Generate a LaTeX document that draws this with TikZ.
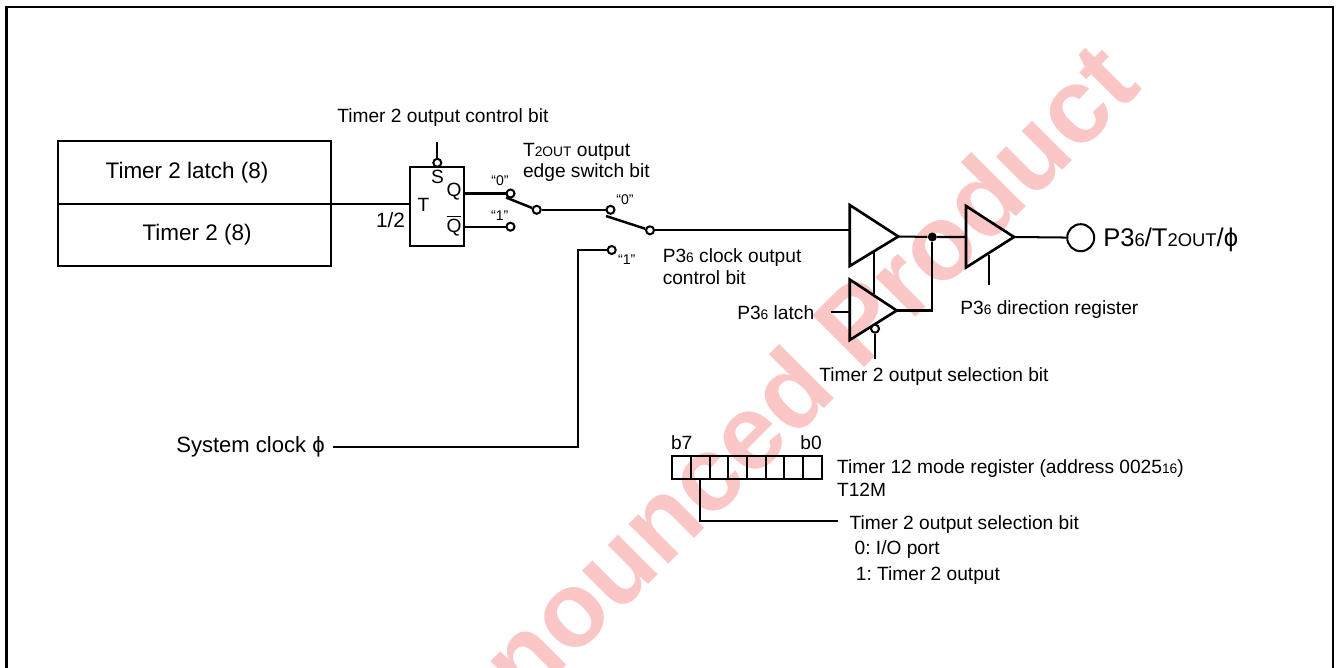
\documentclass[tikz,border=0pt]{standalone}
\usepackage{fontspec}
\setmainfont{Liberation Sans}
\usetikzlibrary{positioning}
\definecolor{markpink}{RGB}{250,198,198}
\newcommand{\lowtxt}[1]{\scalebox{0.72}{#1}}
\newcommand{\phisym}{\char"03D5\relax}
\frenchspacing

\begin{document}
\begin{tikzpicture}[
        x=0.02cm, y=-0.02cm,
        % Stili per i blocchi
        regbox/.style={rectangle, draw=black, line width=1.3pt, minimum width=5.46cm, minimum height=1.25cm, font=\fontsize{12.8}{15}\selectfont},
        buffer/.style={draw=black, line width=1.5pt, line join=miter},
        % Stili per le etichette e frecce
        wire/.style={draw=black, line width=1.15pt},
        contact/.style={circle, draw=black, line width=1.15pt, fill=white, minimum size=0.16cm, inner sep=0pt},
        lbl/.style={font=\fontsize{10.9}{13}\selectfont, inner sep=0pt},
        biglbl/.style={font=\fontsize{11.8}{14}\selectfont, inner sep=0pt},
        tinylbl/.style={font=\fontsize{8}{9}\selectfont, inner sep=0pt}
    ]
    \useasboundingbox (0,0) rectangle (1337,668);

    % --- WATERMARK ---
    \begin{scope}
    \clip (0,0) rectangle (1337,668);
    \node[font=\fontsize{60.5}{70}\selectfont\bfseries, text=markpink, rotate=45, inner sep=0pt] (Mark) at (808,371) {nounced Product};
    \end{scope}

    % --- FRAME ---
    \draw[line width=1.5pt] (6.5,668) -- (6.5,7) -- (1333,7) -- (1333,668);

    % --- TIMER BLOCKS ---
    \node[regbox] (Latch) at (194.5,172.5) {\hspace{-8.5pt}Timer 2 latch (8)};
    \node[regbox] (Count) at (194.5,235) {\hspace{3pt}Timer 2 (8)};

    % --- FLIP FLOP ---
    \node[rectangle, draw=black, line width=1.3pt, minimum width=1.08cm, minimum height=1.58cm] (FF) at (437.3,206.7) {};
    \node[lbl] (Sin) at (437.5,177) {S};
    \node[lbl] (Tin) at (423.5,205) {T};
    \node[lbl] (Qout) at (454,192) {Q};
    \node[lbl] (Qbar) at (454,226) {$\overline{\mbox{Q}}$};
    \node[biglbl] (Half) at (390.5,220) {1/2};
    \node[contact] (Set) at (437.3,162.8) {};
    \coordinate (SetTop) at (437.3,142.5);
    \coordinate (TimerOut) at (331,203.8);
    \coordinate (TInEnd) at (408.5,203.8);
    \draw[wire] (SetTop) -- (Set);
    \draw[wire] (TimerOut) -- (TInEnd);
    \node[lbl, anchor=west] (CtrlBit) at (337,118) {Timer 2 output control bit};
    \node[lbl, anchor=west] (EdgeA) at (522.7,152) {T\lowtxt{2OUT} output};
    \node[lbl, anchor=west] (EdgeB) at (522.7,172.5) {edge switch bit};

    % --- SWITCHES ---
    \node[contact] (C0) at (510.5,193.5) {};
    \node[contact] (C1) at (510.5,226.7) {};
    \node[contact] (Mid1) at (536.7,209.8) {};
    \node[contact] (Mid2) at (610.5,209.8) {};
    \node[contact] (Out0) at (650,230.3) {};
    \node[contact] (In1) at (611.7,250) {};
    \coordinate (Blade1) at (506,197.5);
    \coordinate (Blade2) at (606,216);
    \draw[wire] (FF.east |- C0) -- (C0);
    \draw[wire] (FF.east |- C1) -- (C1);
    \draw[wire, line width=1.4pt] (Blade1) -- (Mid1);
    \draw[wire] (Mid1) -- (Mid2);
    \draw[wire, line width=1.4pt] (Blade2) -- (Out0);
    \node[tinylbl] (Z1) at (500,180.7) {“0”};
    \node[tinylbl] (O1) at (499.7,216) {“1”};
    \node[tinylbl] (Z2) at (625,199.3) {“0”};
    \node[tinylbl] (O2) at (626.7,260) {“1”};
    \node[lbl, anchor=west] (ClkA) at (662.4,257.5) {P3\lowtxt{6} clock output};
    \node[lbl, anchor=west] (ClkB) at (662.4,278) {control bit};

    % --- SYSTEM CLOCK ---
    \node[biglbl, font=\fontsize{12.55}{15}\selectfont, anchor=east] (SysClk) at (325,447) {System clock \phisym};
    \coordinate (SysEnd) at (333,447.3);
    \draw[wire] (SysEnd) -- (578,447.3) -- (578,250) -- (In1);

    % --- BUFFERS ---
    \draw[buffer] (849.7,205) coordinate (T1a) -- (898.3,236.5) coordinate (T1tip) -- (849.7,266) -- cycle;
    \draw[buffer] (849.7,279.5) -- (896.7,310.5) coordinate (T2tip) -- (849.7,340) -- cycle;
    \draw[buffer] (966,206) coordinate (T3a) -- (1014,237) coordinate (T3tip) -- (966,267.5) -- cycle;
    \coordinate (T1in) at (849.7,230.3);
    \draw[wire] (Out0) -- (T1in);
    \node[circle, fill=black, minimum size=0.18cm, inner sep=0pt] (Dot) at (932.3,237) {};
    \draw[wire] (T1tip) -- (Dot) -- (T3a |- Dot);
    \draw[wire] (T2tip) -| (Dot);
    \coordinate (En1a) at (873.7,251);
    \coordinate (En1b) at (873.7,294);
    \draw[wire] (En1a) -- (En1b);
    \coordinate (LatchIn) at (830.7,312.3);
    \draw[wire] (LatchIn) -- (849.7,312.3);
    \node[lbl, anchor=east] (LatchTxt) at (814.5,313) {P3\lowtxt{6} latch};
    \node[contact] (Inv) at (875,328.7) {};
    \coordinate (InvEnd) at (875,359.3);
    \draw[wire] (Inv) -- (InvEnd);
    \node[lbl, anchor=west] (SelTxt) at (819,377) {Timer 2 output selection bit};
    \coordinate (En3a) at (988.7,255);
    \coordinate (En3b) at (988.7,285);
    \draw[wire] (En3a) -- (En3b);
    \node[lbl, anchor=west] (DirTxt) at (960,310) {P3\lowtxt{6} direction register};
    \node[circle, draw=black, line width=1.15pt, minimum size=0.54cm, inner sep=0pt] (Pin) at (1080.7,237.7) {};
    \draw[wire] (T3tip) -- (Pin);
    \node[font=\fontsize{14.55}{17}\selectfont, inner sep=0pt, anchor=west] (PinTxt) at (1103,239.5) {P3\lowtxt{6}/T\lowtxt{2OUT}/\phisym};

    % --- REGISTER ---
    \foreach \x in {0,...,7} {
        \node[rectangle, draw=black, line width=1.2pt, minimum width=0.3733cm, minimum height=0.47cm, inner sep=0pt] (R\x) at (\x*18.67+681.6,467.5) {};
    }
    \node[lbl] (B7) at (681.7,443) {b7};
    \node[lbl] (B0) at (811,443) {b0};
    \node[lbl, anchor=west] (RegA) at (836.7,468.7) {Timer 12 mode register (address 0025\lowtxt{16})};
    \node[lbl, anchor=west] (RegB) at (836.7,490) {T12M};
    \coordinate (LeadEnd) at (837.7,521);
    \draw[wire] (R1.south) |- (LeadEnd);
    \node[lbl, anchor=west] (SelA) at (849.3,524.7) {Timer 2 output selection bit};
    \node[lbl, anchor=west] (SelB) at (854.3,549.7) {0: I/O port};
    \node[lbl, anchor=west] (SelC) at (855.5,576) {1: Timer 2 output};

    \end{tikzpicture}
\end{document}
